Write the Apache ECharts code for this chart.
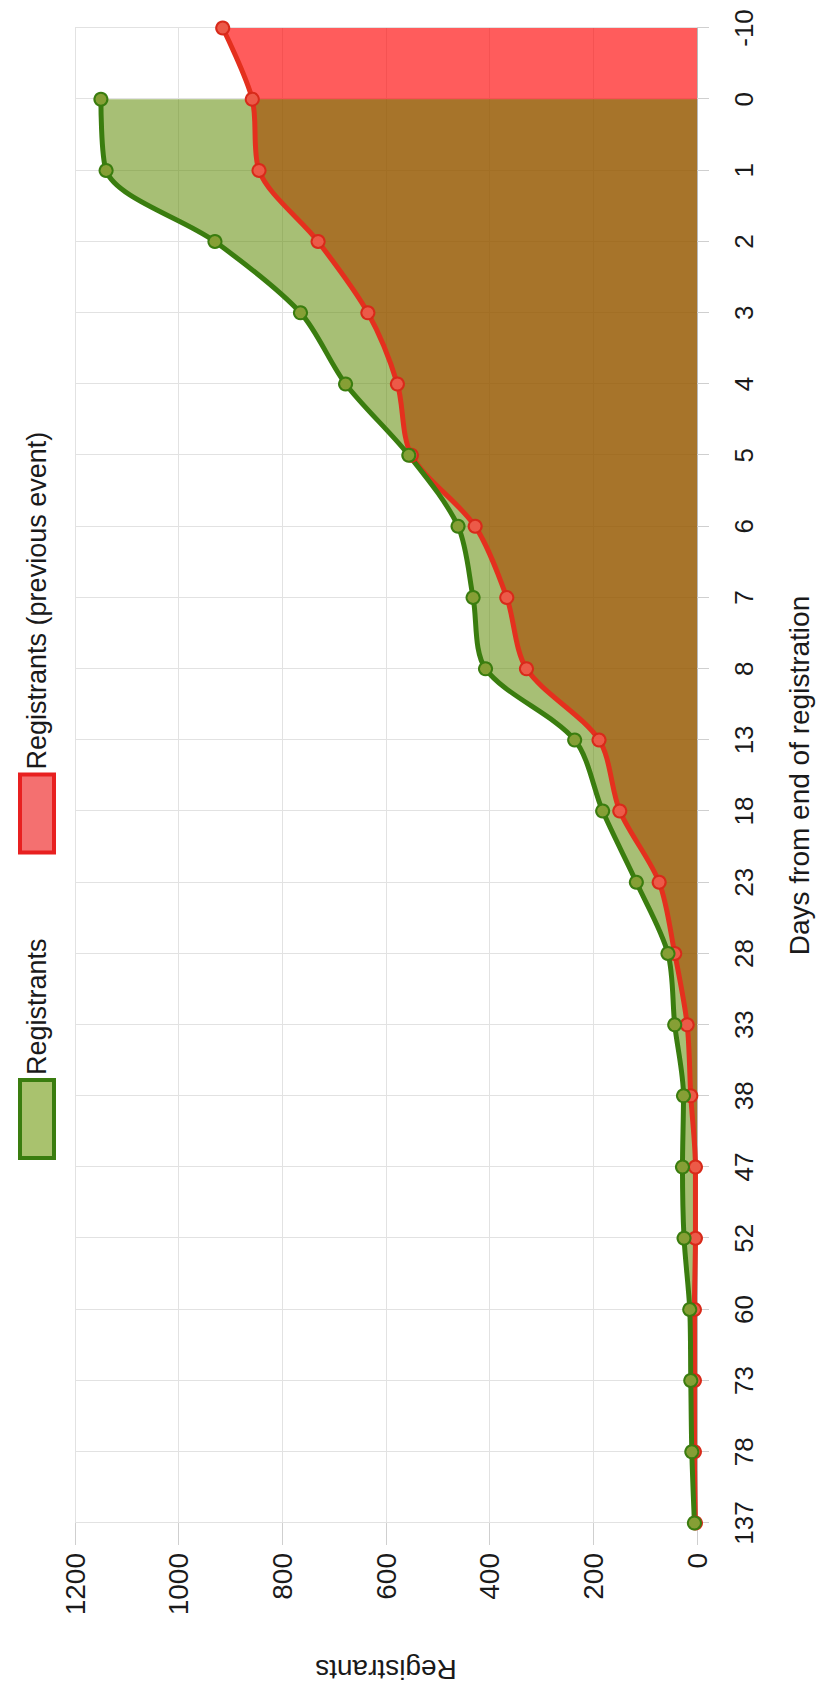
<!DOCTYPE html>
<html>
<head>
<meta charset="utf-8">
<script src="https://cdn.jsdelivr.net/npm/echarts@6/dist/echarts.min.js"></script>
<style>
  html, body { margin: 0; padding: 0; background: #ffffff; overflow: hidden; width: 818px; height: 1692px; }
  #chart { position: absolute; left: 0; top: 0; width: 1692px; height: 818px;
           transform-origin: 0 0; transform: translate(0px, 1692px) rotate(-90deg); }
</style>
</head>
<body>
<div id="chart"></div>
<script>
// Days from end of registration (left to right in the un-rotated chart)
const categories = ['137', '78', '73', '60', '52', '47', '38', '33', '28', '23', '18', '13', '8', '7', '6', '5', '4', '3', '2', '1', '0', '-10'];
// Registrants (current event) – no value yet at -10
const registrants = [5, 10, 12, 14, 25, 28, 26, 43, 56, 117, 182, 236, 408, 432, 461, 556, 678, 765, 930, 1140, 1150, null];
// Registrants (previous event)
const previousEvent = [3, 5, 5, 5, 3, 3, 12, 19, 43, 73, 149, 189, 329, 367, 428, 551, 578, 635, 731, 845, 858, 915];
const valueTicks = { min: 0, max: 1200, interval: 200 };

const FONT = '"Liberation Sans", Arial, sans-serif';
const TXT = '#1a1a1a';
const NAME_REG = 'Registrants';
const NAME_PREV = 'Registrants (previous event)';
const SMOOTH = 0.3;

const chart = echarts.init(document.getElementById('chart'), null, { renderer: 'svg' });
chart.setOption({
  animation: false,
  backgroundColor: '#ffffff',
  textStyle: { fontFamily: FONT, color: TXT },
  legend: {
    left: 527, top: 13,
    itemWidth: 78, itemHeight: 34, itemGap: 84,
    textStyle: { fontFamily: FONT, fontSize: 27, color: TXT },
    data: [
      { name: NAME_REG, icon: 'rect', itemStyle: { color: '#a9c26e', borderColor: '#3a7d0f', borderWidth: 4 } },
      { name: NAME_PREV, icon: 'rect', itemStyle: { color: '#f47070', borderColor: '#e82020', borderWidth: 4 } }
    ]
  },
  grid: { left: 169, right: 28, top: 75, bottom: 118, containLabel: false },
  xAxis: {
    type: 'category', data: categories, boundaryGap: false,
    axisLine: { show: true, lineStyle: { color: '#b8b8b8', width: 1 } },
    axisTick: { show: true, length: 12, lineStyle: { color: '#cfcfcf' } },
    splitLine: { show: true, lineStyle: { color: '#e2e2e2', width: 1 } },
    axisLabel: { fontFamily: FONT, fontSize: 26, color: TXT, margin: 34 },
    name: 'Days from end of registration', nameLocation: 'middle', nameGap: 88,
    nameTextStyle: { fontFamily: FONT, fontSize: 28, color: TXT }
  },
  yAxis: {
    type: 'value', min: valueTicks.min, max: valueTicks.max, interval: valueTicks.interval,
    axisLine: { show: false },
    axisTick: { show: true, length: 22, lineStyle: { color: '#cfcfcf' } },
    splitLine: { show: true, lineStyle: { color: '#e2e2e2', width: 1 } },
    axisLabel: { fontFamily: FONT, fontSize: 28, color: TXT, margin: 30,
                 formatter: function (v) { return String(v); } },
    name: 'Registrants', nameLocation: 'middle', nameGap: 132, nameRotate: 90,
    nameTextStyle: { fontFamily: FONT, fontSize: 28, color: TXT }
  },
  series: [
    { name: NAME_PREV, type: 'line', data: previousEvent, showSymbol: false, silent: true, smooth: SMOOTH,
      lineStyle: { width: 0 }, areaStyle: { color: 'rgba(255,0,0,0.64)', opacity: 1 } },
    { name: NAME_REG, type: 'line', data: registrants, showSymbol: false, silent: true, smooth: SMOOTH,
      lineStyle: { width: 0 }, areaStyle: { color: 'rgba(92,136,0,0.54)', opacity: 1 } },
    { name: NAME_PREV, type: 'line', data: previousEvent, symbol: 'circle', symbolSize: 13, smooth: SMOOTH,
      lineStyle: { color: '#e4301e', width: 5 },
      itemStyle: { color: '#ec5a48', borderColor: '#d82a1a', borderWidth: 2 } },
    { name: NAME_REG, type: 'line', data: registrants, symbol: 'circle', symbolSize: 13, smooth: SMOOTH,
      lineStyle: { color: '#3a7d0f', width: 5 },
      itemStyle: { color: '#869f35', borderColor: '#3a7d0f', borderWidth: 2 } }
  ]
});
</script>
</body>
</html>
